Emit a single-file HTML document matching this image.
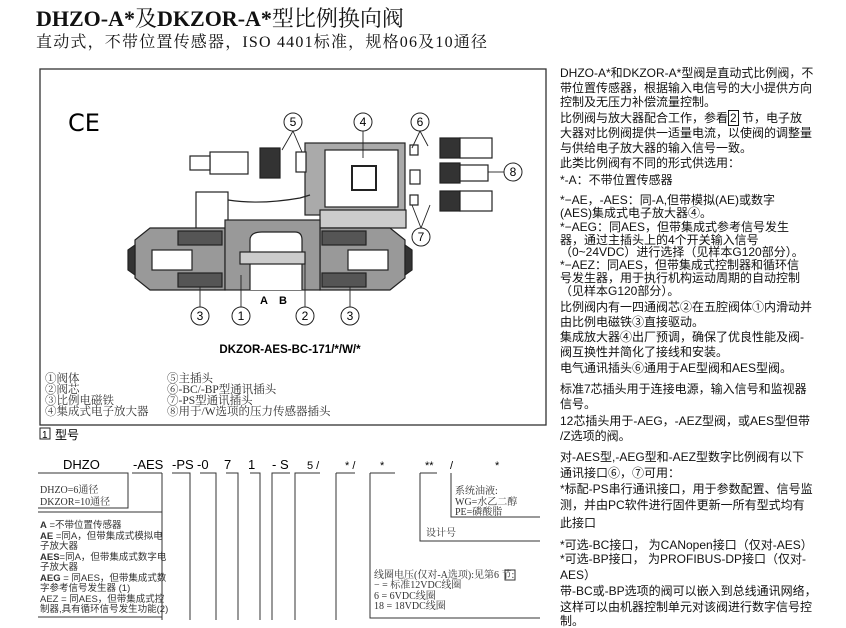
<!DOCTYPE html>
<html><head><meta charset="utf-8"><style>
body{margin:0;width:846px;height:620px;overflow:hidden;background:#fff;position:relative;font-family:"Liberation Sans","Noto Sans CJK SC",sans-serif;color:#111}
.t{position:absolute;white-space:nowrap}
.r{position:absolute;left:560px;font-size:12px;white-space:nowrap;line-height:14px}
.s{font-family:"Liberation Serif","Noto Serif CJK SC",serif}
</style></head><body>
<div class="t s" style="left:36px;top:2px;font-size:22px;"><b>DHZO-A*</b>及<b>DKZOR-A*</b>型比例换向阀</div>
<div class="t s" style="left:36px;top:29px;font-size:16px;letter-spacing:1.2px">直动式，不带位置传感器，ISO 4401标准，规格06及10通径</div>

<div class="r" style="top:66px">DHZO-A*和DKZOR-A*型阀是直动式比例阀，不</div>
<div class="r" style="top:81px">带位置传感器，根据输入电信号的大小提供方向</div>
<div class="r" style="top:95px">控制及无压力补偿流量控制。</div>
<div class="r" style="top:111px">比例阀与放大器配合工作，参看<span style="border:1px solid #111;padding:0 1px">2</span> 节，电子放</div>
<div class="r" style="top:126px">大器对比例阀提供一适量电流，以使阀的调整量</div>
<div class="r" style="top:141px">与供给电子放大器的输入信号一致。</div>
<div class="r" style="top:156px">此类比例阀有不同的形式供选用：</div>
<div class="r" style="top:173px">*-A：不带位置传感器</div>
<div class="r" style="top:193px">*−AE，-AES：同-A,但带模拟(AE)或数字</div>
<div class="r" style="top:206px">(AES)集成式电子放大器④。</div>
<div class="r" style="top:220px">*−AEG：同AES，但带集成式参考信号发生</div>
<div class="r" style="top:233px">器，通过主插头上的4个开关输入信号</div>
<div class="r" style="top:245px">（0~24VDC）进行选择（见样本G120部分）。</div>
<div class="r" style="top:258px">*−AEZ：同AES，但带集成式控制器和循环信</div>
<div class="r" style="top:271px">号发生器，用于执行机构运动周期的自动控制</div>
<div class="r" style="top:284px">（见样本G120部分）。</div>
<div class="r" style="top:300px">比例阀内有一四通阀芯②在五腔阀体①内滑动并</div>
<div class="r" style="top:315px">由比例电磁铁③直接驱动。</div>
<div class="r" style="top:330px">集成放大器④出厂预调，确保了优良性能及阀-</div>
<div class="r" style="top:345px">阀互换性并简化了接线和安装。</div>
<div class="r" style="top:361px">电气通讯插头⑥通用于AE型阀和AES型阀。</div>
<div class="r" style="top:382px">标准7芯插头用于连接电源，输入信号和监视器</div>
<div class="r" style="top:397px">信号。</div>
<div class="r" style="top:414px">12芯插头用于-AEG，-AEZ型阀，或AES型但带</div>
<div class="r" style="top:429px">/Z选项的阀。</div>
<div class="r" style="top:450px">对-AES型,-AEG型和-AEZ型数字比例阀有以下</div>
<div class="r" style="top:466px">通讯接口⑥，⑦可用：</div>
<div class="r" style="top:482px">*标配-PS串行通讯接口，用于参数配置、信号监</div>
<div class="r" style="top:498px">测，并由PC软件进行固件更新一所有型式均有</div>
<div class="r" style="top:516px">此接口</div>
<div class="r" style="top:538px">*可选-BC接口， 为CANopen接口（仅对-AES）</div>
<div class="r" style="top:552px">*可选-BP接口， 为PROFIBUS-DP接口（仅对-</div>
<div class="r" style="top:568px">AES）</div>
<div class="r" style="top:584px">带-BC或-BP选项的阀可以嵌入到总线通讯网络，</div>
<div class="r" style="top:600px">这样可以由机器控制单元对该阀进行数字信号控</div>
<div class="r" style="top:614px">制。</div>

<svg width="846" height="620" style="position:absolute;left:0;top:0" xmlns="http://www.w3.org/2000/svg">
<g fill="none" stroke="#333" stroke-width="1.3">
<rect x="40" y="69" width="506" height="356"/>
</g>
<text x="68" y="131" font-size="24" font-family="DejaVu Sans" font-weight="normal">CE</text>
<g stroke="#222" stroke-width="1.2">
<rect x="305" y="143" width="100" height="72" fill="#aaa"/>
<rect x="325" y="150" width="73" height="57" fill="#fff"/>
<rect x="352" y="166" width="24" height="24" fill="#fff" stroke-width="2"/>
<rect x="320" y="210" width="86" height="18" fill="#ccc"/>
<rect x="210" y="152" width="38" height="22" fill="#fff"/>
<rect x="190" y="156" width="20" height="14" fill="#fff"/>
<rect x="260" y="148" width="20" height="30" fill="#333"/>
<rect x="296" y="152" width="10" height="20" fill="#fff"/>
<rect x="440" y="138" width="20" height="20" fill="#333"/><rect x="460" y="138" width="32" height="20" fill="#fff"/>
<rect x="440" y="163" width="20" height="20" fill="#333"/><rect x="460" y="165" width="28" height="16" fill="#fff"/>
<rect x="440" y="191" width="20" height="20" fill="#333"/><rect x="460" y="191" width="32" height="20" fill="#fff"/>
<rect x="410" y="145" width="8" height="10" fill="#fff"/><rect x="410" y="170" width="10" height="14" fill="#fff"/><rect x="410" y="195" width="8" height="10" fill="#fff"/>
<rect x="196" y="192" width="32" height="42" fill="#fff"/>
<path d="M228 200 Q260 205 300 198 L310 195" fill="none"/>
<path d="M135 240 L150 228 L225 228 L225 290 L150 290 L135 278 Z" fill="#999"/>
<path d="M405 240 L390 228 L320 228 L320 290 L390 290 L405 278 Z" fill="#999"/>
<rect x="225" y="220" width="95" height="70" fill="#999"/>
<rect x="178" y="231" width="44" height="14" fill="#555"/><rect x="178" y="273" width="44" height="14" fill="#555"/>
<rect x="322" y="231" width="44" height="14" fill="#555"/><rect x="322" y="273" width="44" height="14" fill="#555"/>
<rect x="152" y="250" width="40" height="20" fill="#fff"/><rect x="348" y="250" width="40" height="20" fill="#fff"/>
<path d="M250 290 L250 240 Q250 232 262 232 L295 232 Q302 232 302 240 L302 290" fill="#fff"/>
<rect x="240" y="252" width="65" height="12" fill="#ccc"/>
<path d="M128 250 L135 245 L135 275 L128 270 Z" fill="#333"/><path d="M412 250 L405 245 L405 275 L412 270 Z" fill="#333"/>
</g>
<g stroke="#222" stroke-width="1" fill="#fff">
<circle cx="293" cy="122" r="9"/><circle cx="363" cy="122" r="9"/><circle cx="420" cy="122" r="9"/>
<circle cx="513" cy="172" r="9"/><circle cx="421" cy="237" r="9"/>
<circle cx="200" cy="316" r="9"/><circle cx="241" cy="316" r="9"/><circle cx="305" cy="316" r="9"/><circle cx="350" cy="316" r="9"/>
</g>
<g stroke="#222" stroke-width="0.9" fill="none">
<path d="M293 131 L282 150 M293 131 L302 152"/><path d="M363 131 L363 158"/>
<path d="M420 131 L412 148 M420 131 L428 146"/><path d="M504 172 L488 172"/>
<path d="M421 228 L412 205 M421 228 L430 205"/>
<path d="M200 307 L200 287 M241 307 L241 275 M305 307 L305 260 M350 307 L350 287"/>
</g>
<g font-size="12" font-family="Liberation Sans" text-anchor="middle">
<text x="293" y="126">5</text><text x="363" y="126">4</text><text x="420" y="126">6</text><text x="513" y="176">8</text><text x="421" y="241">7</text>
<text x="200" y="320">3</text><text x="241" y="320">1</text><text x="305" y="320">2</text><text x="350" y="320">3</text>
<text x="264" y="304" font-weight="bold" font-size="11">A</text><text x="283" y="304" font-weight="bold" font-size="11">B</text>
<text x="290" y="353" font-weight="bold" font-size="11.5">DKZOR-AES-BC-171/*/W/*</text>
</g>
<g font-size="11.5" font-family="Liberation Serif,Noto Serif CJK SC,serif" fill="#333">
<text x="45" y="382">①阀体</text><text x="45" y="393">②阀芯</text><text x="45" y="404">③比例电磁铁</text><text x="45" y="415">④集成式电子放大器</text>
<text x="167" y="382">⑤主插头</text><text x="167" y="393">⑥-BC/-BP型通讯插头</text><text x="167" y="404">⑦-PS型通讯插头</text><text x="167" y="415">⑧用于/W选项的压力传感器插头</text>
</g>
<rect x="40" y="428" width="10" height="11" fill="none" stroke="#222"/>
<text x="42" y="438" font-size="10" font-family="Liberation Sans">1</text>
<text x="55" y="439" font-size="12" font-family="Liberation Sans,Noto Sans CJK SC,sans-serif">型号</text>
<g font-size="13" font-family="Liberation Sans">
<text x="63" y="469">DHZO</text><text x="133" y="469">-AES</text><text x="172" y="469">-PS</text><text x="197" y="469">-0</text>
<text x="224" y="469">7</text><text x="248" y="469">1</text><text x="272" y="469">- S</text><text x="307" y="469" font-size="11">5 /</text>
<text x="345" y="469" font-size="11">*  /</text><text x="380" y="469" font-size="11">*</text><text x="425" y="469" font-size="11">**</text><text x="450" y="469" font-size="11">/</text><text x="495" y="469" font-size="11">*</text>
</g>
<g stroke="#333" stroke-width="1" fill="none">
<path d="M38 473 L128 473 L128 508 L38 508"/>
<path d="M38 512 L162 512 M162 473 L162 620 M132 473 L162 473"/>
<path d="M38 617 L162 617"/>
<path d="M172 473 L190 473 L190 620 M200 473 L216 473 L216 620 M226 473 L238 473 L238 620 M250 473 L260 473 L260 620 M272 473 L272 620 L272 473 L290 473"/>
<path d="M295 473 L295 620 L295 473 L320 473 M336 473 L355 473 M336 473 L336 620"/>
<path d="M370 473 L395 473 M370 473 L370 618 L540 618"/>
<path d="M420 473 L437 473 M420 473 L420 541 L540 541"/>
<path d="M451 473 L451 517 L540 517"/>
</g>
<g font-size="10" font-family="Liberation Serif,Noto Serif CJK SC,serif" fill="#333">
<text x="40" y="493">DHZO=6通径</text><text x="40" y="505">DKZOR=10通径</text>
<text x="455" y="494">系统油液:</text><text x="455" y="505">WG=水乙二醇</text><text x="455" y="515">PE=磷酸脂</text>
<text x="426" y="536">设计号</text>
<text x="374" y="578">线圈电压(仅对-A选项):见第<tspan>6</tspan> 节:</text>
<text x="374" y="588">−  =  标准12VDC线圈</text><text x="374" y="599">6   =   6VDC线圈</text><text x="374" y="609">18 = 18VDC线圈</text>
</g>
<rect x="505" y="570" width="10" height="10" fill="none" stroke="#333"/>
<g font-size="9.5" font-family="Liberation Sans,Noto Sans CJK SC,sans-serif" fill="#333">
<text x="40" y="528"><tspan font-weight="bold">A</tspan>    =不带位置传感器</text>
<text x="40" y="539"><tspan font-weight="bold">AE</tspan> =同A，但带集成式模拟电</text>
<text x="40" y="549">子放大器</text>
<text x="40" y="560"><tspan font-weight="bold">AES</tspan>=同A，但带集成式数字电</text>
<text x="40" y="570">子放大器</text>
<text x="40" y="581"><tspan font-weight="bold">AEG</tspan> = 同AES，但带集成式数</text>
<text x="40" y="591">字参考信号发生器 (1)</text>
<text x="40" y="602">AEZ = 同AES，但带集成式控</text>
<text x="40" y="612">制器,具有循环信号发生功能(2)</text>
</g>
</svg>
</body></html>
